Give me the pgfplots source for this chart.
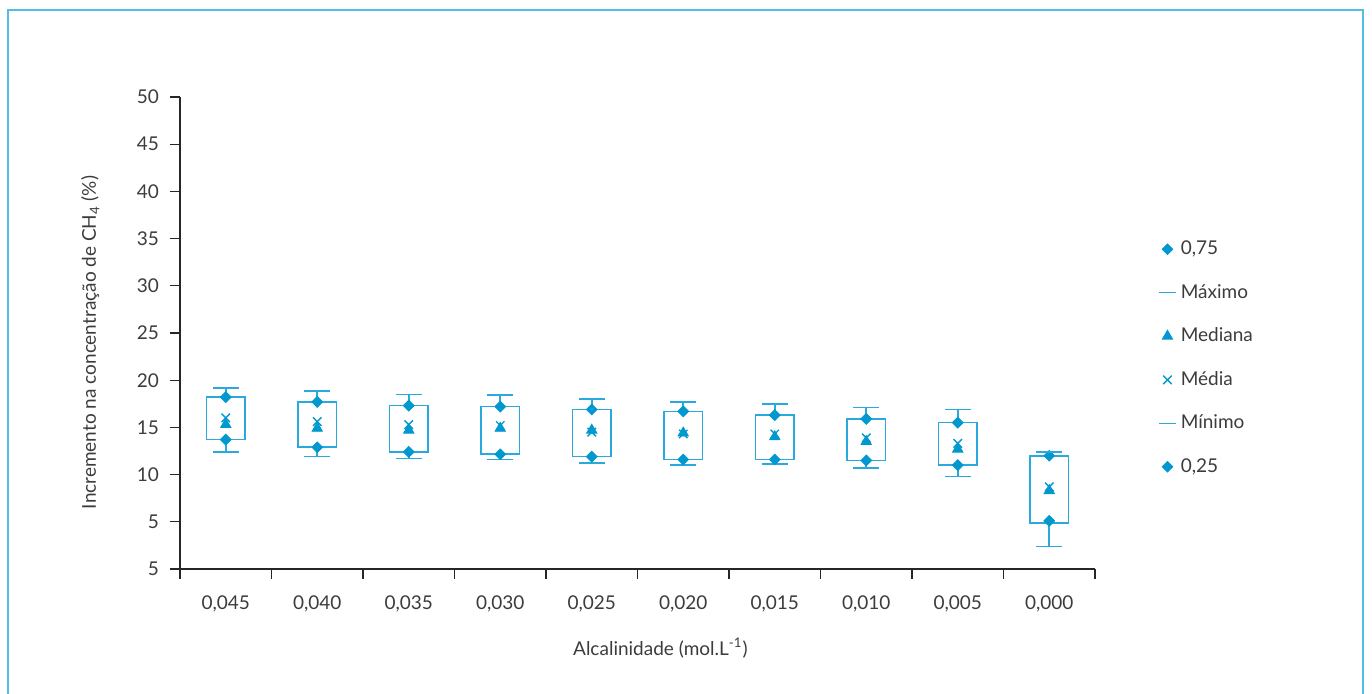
\documentclass[border=0pt]{standalone}
\usepackage{fontspec}
\setmainfont{Lato}
\usepackage{pgfplots}
\pgfplotsset{compat=1.18}
\usepgfplotslibrary{statistics}
\definecolor{boxc}{HTML}{2AA9DF}
\definecolor{markc}{HTML}{0098CF}
\definecolor{txt}{HTML}{3C3C3C}
\definecolor{framec}{HTML}{55BCE8}
\begin{document}
\begin{tikzpicture}[x=1pt,y=1pt,font=\fontsize{9.5}{11}\selectfont]
\path[use as bounding box] (0,0) rectangle (686,347);
\draw[framec, line width=0.8pt] (4,-5) rectangle (681.5,342);
\begin{axis}[
  at={(90pt,62.5pt)}, anchor=south west, scale only axis,
  width=457.5pt, height=236pt,
  xmin=-0.5, xmax=9.5, ymin=0, ymax=50,
  axis lines=left, axis line style={-, draw=black!85, line width=0.6pt},
  x axis line style={-}, y axis line style={-},
  ytick={0,5,...,50}, yticklabels={5,5,10,15,20,25,30,35,40,45,50},
  xtick={-0.5,0.5,...,9.5}, xticklabels={},
  extra x ticks={0,1,...,9},
  extra x tick labels={{0,045},{0,040},{0,035},{0,030},{0,025},{0,020},{0,015},{0,010},{0,005},{0,000}},
  extra x tick style={major tick length=0pt, tick label style={yshift=-10pt}},
  tick align=outside, major tick length=5pt,
  tick style={draw=black!85, line width=0.6pt},
  ticklabel style={color=txt},
  yticklabel style={xshift=-2pt},
  /pgf/number format/assume math mode=true,
  every axis y label/.style={at={(axis description cs:-0.098,0.48)}, rotate=90, anchor=center, color=txt},
  every axis x label/.style={at={(axis description cs:0.525,-0.167)}, anchor=center, color=txt},
  ylabel={Incremento na concentração de CH\textsubscript{4} (\%)},
  xlabel={Alcalinidade (mol.L\textsuperscript{-1})},
  boxplot/draw direction=y,
  boxplot/draw/median/.code={},
  boxplot/box extend=0.42,
  boxplot/whisker extend=0.28,
  legend style={at={(1.062,0.447)}, anchor=west, draw=none, fill=none, row sep=9.3pt, text=txt, font=\fontsize{9.5}{11}\selectfont},
  legend cell align=left,
  clip=false,
]
\pgfplotsset{bx/.style={draw=boxc, line width=0.8pt, solid, mark=none, forget plot}}
\addplot[bx, boxplot prepared={draw position=0, lower whisker=12.4, lower quartile=13.7, median=15.3, upper quartile=18.2, upper whisker=19.2}] coordinates {};
\addplot[bx, boxplot prepared={draw position=1, lower whisker=11.9, lower quartile=12.9, median=14.9, upper quartile=17.7, upper whisker=18.85}] coordinates {};
\addplot[bx, boxplot prepared={draw position=2, lower whisker=11.7, lower quartile=12.4, median=14.7, upper quartile=17.3, upper whisker=18.5}] coordinates {};
\addplot[bx, boxplot prepared={draw position=3, lower whisker=11.6, lower quartile=12.15, median=14.9, upper quartile=17.2, upper whisker=18.4}] coordinates {};
\addplot[bx, boxplot prepared={draw position=4, lower whisker=11.2, lower quartile=11.9, median=14.7, upper quartile=16.9, upper whisker=18.0}] coordinates {};
\addplot[bx, boxplot prepared={draw position=5, lower whisker=11.0, lower quartile=11.6, median=14.4, upper quartile=16.7, upper whisker=17.7}] coordinates {};
\addplot[bx, boxplot prepared={draw position=6, lower whisker=11.1, lower quartile=11.6, median=14.0, upper quartile=16.3, upper whisker=17.5}] coordinates {};
\addplot[bx, boxplot prepared={draw position=7, lower whisker=10.7, lower quartile=11.5, median=13.5, upper quartile=15.9, upper whisker=17.1}] coordinates {};
\addplot[bx, boxplot prepared={draw position=8, lower whisker=9.8, lower quartile=11.0, median=12.7, upper quartile=15.5, upper whisker=16.9}] coordinates {};
\addplot[bx, boxplot prepared={draw position=9, lower whisker=2.4, lower quartile=4.9, median=8.3, upper quartile=12.0, upper whisker=12.4}] coordinates {};
% 0,75
\addplot[only marks, mark=square*, mark size=1.9pt, mark options={rotate=45, fill=markc, draw=markc}]
  coordinates {(0,18.2) (1,17.7) (2,17.3) (3,17.2) (4,16.9) (5,16.7) (6,16.3) (7,15.9) (8,15.5) (9,12.0)};
\addlegendentry{0,75}
% Maximo
\addplot[only marks, mark=-, mark size=6.4pt, mark options={draw=boxc, line width=0.8pt},
  legend image code/.code={\draw[boxc, line width=0.8pt] (0.15cm,0) -- (0.45cm,0);}]
  coordinates {(0,19.2) (1,18.85) (2,18.5) (3,18.4) (4,18.0) (5,17.7) (6,17.5) (7,17.1) (8,16.9) (9,12.4)};
\addlegendentry{Máximo}
% Mediana
\addplot[only marks, mark=triangle*, mark size=3pt, mark options={fill=markc, draw=markc}]
  coordinates {(0,15.3) (1,14.9) (2,14.7) (3,14.9) (4,14.7) (5,14.4) (6,14.0) (7,13.5) (8,12.7) (9,8.3)};
\addlegendentry{Mediana}
% Media
\addplot[only marks, mark=x, mark size=3pt, mark options={draw=markc, line width=0.7pt}]
  coordinates {(0,16.0) (1,15.6) (2,15.3) (3,15.2) (4,14.5) (5,14.3) (6,14.3) (7,13.9) (8,13.3) (9,8.7)};
\addlegendentry{Média}
% Minimo
\addplot[only marks, mark=-, mark size=6.4pt, mark options={draw=boxc, line width=0.8pt},
  legend image code/.code={\draw[boxc, line width=0.8pt] (0.15cm,0) -- (0.45cm,0);}]
  coordinates {(0,12.4) (1,11.9) (2,11.7) (3,11.6) (4,11.2) (5,11.0) (6,11.1) (7,10.7) (8,9.8) (9,2.4)};
\addlegendentry{Mínimo}
% 0,25
\addplot[only marks, mark=square*, mark size=1.9pt, mark options={rotate=45, fill=markc, draw=markc}]
  coordinates {(0,13.7) (1,12.9) (2,12.4) (3,12.15) (4,11.9) (5,11.6) (6,11.6) (7,11.5) (8,11.0) (9,5.1)};
\addlegendentry{0,25}
\end{axis}
\end{tikzpicture}
\end{document}
